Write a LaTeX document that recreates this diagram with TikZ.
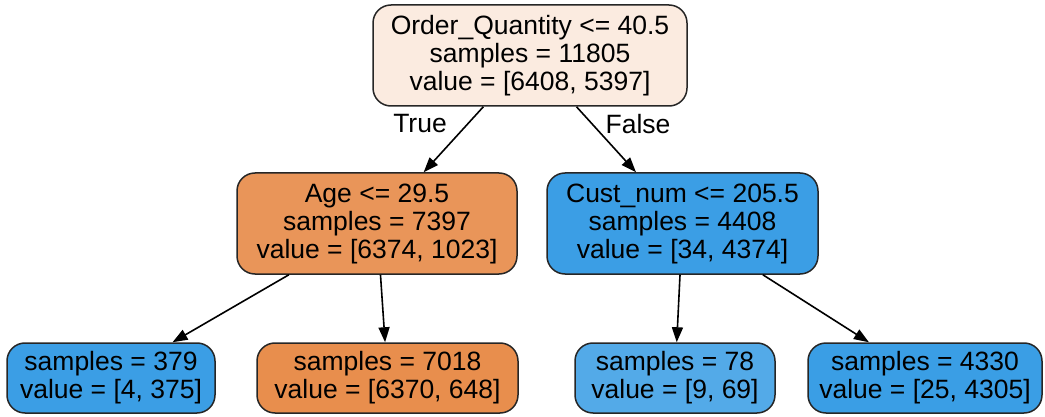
\documentclass[tikz,border=0pt]{standalone}
\usepackage{fontspec}
\setmainfont{Liberation Sans}
\usetikzlibrary{arrows.meta}

% node fills, shaded by class purity
\definecolor{rootfill}{RGB}{251,235,224}
\definecolor{agefill}{RGB}{233,149,89}
\definecolor{custfill}{RGB}{59,158,229}
\definecolor{leafa}{RGB}{59,158,229}
\definecolor{leafb}{RGB}{232,142,77}
\definecolor{leafc}{RGB}{83,170,232}
\definecolor{leafd}{RGB}{58,158,229}

\begin{document}
\begin{tikzpicture}[x=1pt,y=-1pt,
  tnode/.style={draw=black!85, line width=1.5pt, rounded corners=18pt,
    inner sep=0pt, align=center, font=\fontsize{26.5}{28}\selectfont},
  splitbox/.style={tnode, minimum height=101pt},
  leafbox/.style={tnode, minimum height=70pt},
  edge/.style={draw, line width=1.6pt, -{Triangle[length=15pt,width=11pt]}},
  lbl/.style={font=\fontsize{26.5}{28}\selectfont, inner sep=0pt}]
\useasboundingbox (0,0) rectangle (1045,417);

% split nodes
\node[splitbox, fill=rootfill, minimum width=314pt] (root) at (530,55.5)
  {Order\_Quantity <= 40.5\\samples = 11805\\value = [6408, 5397]};
\node[splitbox, fill=agefill, minimum width=280pt] (age) at (377,223.5)
  {Age <= 29.5\\samples = 7397\\value = [6374, 1023]};
\node[splitbox, fill=custfill, minimum width=271pt] (cust) at (682.5,223.5)
  {Cust\_num <= 205.5\\samples = 4408\\value = [34, 4374]};

% leaves
\node[leafbox, fill=leafa, minimum width=208pt] (l1) at (111,378)
  {samples = 379\\value = [4, 375]};
\node[leafbox, fill=leafb, minimum width=261pt] (l2) at (387.5,378)
  {samples = 7018\\value = [6370, 648]};
\node[leafbox, fill=leafc, minimum width=200pt] (l3) at (675,378)
  {samples = 78\\value = [9, 69]};
\node[leafbox, fill=leafd, minimum width=234pt] (l4) at (925,378)
  {samples = 4330\\value = [25, 4305]};

% connectors
\draw[edge] (root) -- (age);
\draw[edge] (root) -- (cust);
\draw[edge] (age) -- (l1);
\draw[edge] (age) -- (l2);
\draw[edge] (cust) -- (l3);
\draw[edge] (cust) -- (l4);

% branch labels
\node[lbl] (true) at (420,124) {True};
\node[lbl] (false) at (638,124) {False};
\end{tikzpicture}
\end{document}
